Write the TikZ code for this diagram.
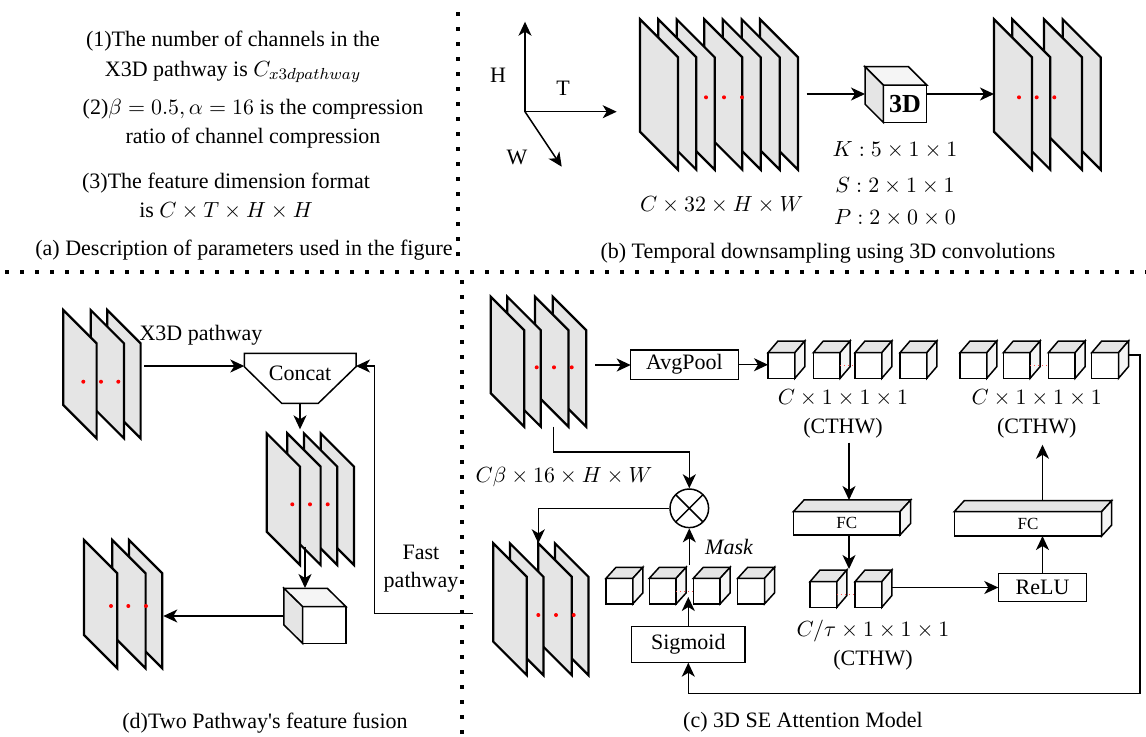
\documentclass[tikz,border=0pt]{standalone}
\usepackage[no-math]{fontspec}
\setmainfont{Liberation Serif}
\usetikzlibrary{arrows.meta, positioning, calc}

% one feature plane: top-left corner, width (= slant), height
\newcommand{\fplane}[4]{\draw[plane] (#1,#2) -- ++(0,#4) -- ++(#3,#3) -- ++(0,-#4) -- cycle;}
\newcommand{\rdots}[4]{\fill[red] (#1,#4) circle (1pt) (#2,#4) circle (1pt) (#3,#4) circle (1pt);}
% depth faces of a box node, going back to the right / to the left
\newcommand{\rdepth}[3]{%
  \draw[topface] (#1.north west) -- ([shift={(#2,#3)}]#1.north west) -- ([shift={(#2,#3)}]#1.north east) -- (#1.north east) -- cycle;
  \draw[sideface] (#1.north east) -- ([shift={(#2,#3)}]#1.north east) -- ([shift={(#2,#3)}]#1.south east) -- (#1.south east) -- cycle;}
\newcommand{\ldepth}[3]{%
  \draw[sideface] (#1.north west) -- ([shift={(#2,#3)}]#1.north west) -- ([shift={(#2,#3)}]#1.north east) -- (#1.north east) -- cycle;
  \draw[topface] (#1.north west) -- ([shift={(#2,#3)}]#1.north west) -- ([shift={(#2,#3)}]#1.south west) -- (#1.south west) -- cycle;}

\begin{document}
\begin{tikzpicture}[x=0.5pt, y=-0.5pt, >={Stealth[length=7pt,width=6.5pt,inset=2pt]},
    plane/.style={draw, fill=gray!20, line width=1.1pt, line join=miter},
    conn/.style={->, line width=0.75pt},
    box/.style={draw, fill=white, line width=0.75pt, inner sep=0pt, outer sep=0pt},
    cubef/.style={box, minimum width=13.4pt, minimum height=12.8pt},
    topface/.style={draw, fill=gray!20, line width=0.75pt},
    sideface/.style={draw, fill=gray!8, line width=0.75pt},
    reddots/.style={red!70, line width=0.4pt, dash pattern=on 0.6pt off 1.4pt},
    sep/.style={line width=1.8pt, dash pattern=on 1.8pt off 5.7pt},
    lbl/.style={font=\fontsize{11}{14.5}\selectfont, align=center, inner sep=0pt}]

\useasboundingbox (0,0) rectangle (1146,736);

% dividers
\draw[sep] (5,272) -- (1146,272);
\draw[sep] (458,12) -- (458,266);
\draw[sep] (462,280) -- (462,736);

% (a)
\node[lbl, font=\fontsize{11}{15}\selectfont] (a1) at (233,57) {(1)The number of channels in the\\X3D pathway is $C_{x3dpathway}$};
\node[lbl] (a2) at (253,124) {(2)$\beta=0.5,\alpha=16$ is the compression\\ratio of channel compression};
\node[lbl] (a3) at (226,196) {(3)The feature dimension format\\is $C\times T\times H\times H$};
\node[lbl] (capa) at (244,250) {(a) Description of parameters used in the figure};

% (b)
\coordinate (o) at (525,111.7);
\coordinate (hax) at (525,21.7);
\coordinate (tax) at (616.7,111.7);
\coordinate (wax) at (561.7,166.7);
\draw[conn] (o) -- (hax);
\draw[conn] (o) -- (tax);
\draw[conn] (o) -- (wax);
\node[lbl] (hl) at (498,75) {H};
\node[lbl] (tl) at (563,88) {T};
\node[lbl] (wl) at (517,157) {W};

\foreach \x in {760,741.7,722.7,704.3,676.7,658.3,640} {\fplane{\x}{19.3}{38}{112.4}}
\rdots{706}{724}{742}{97.3}
\node[lbl] (dimb) at (721.7,205) {$C\times32\times H\times W$};

\node[box, minimum width=21.7pt, minimum height=18.7pt, font=\fontsize{13}{13}\bfseries\selectfont] (conv) at (905,103.7) {3D};
\ldepth{conv}{-18.3}{-18.3}
\coordinate (stb1) at (806.7,94);
\coordinate (convin) at (865,94);
\coordinate (stb2) at (994,94);
\draw[conn] (stb1) -- (convin);
\draw[conn] (conv.east |- convin) -- (stb2);

\node[lbl] (kk) at (895,150) {$K:5\times1\times1$};
\node[lbl] (ss) at (895,186) {$S:2\times1\times1$};
\node[lbl] (pp) at (895,218) {$P:2\times0\times0$};

\foreach \x in {1062.7,1044,1012.3,994} {\fplane{\x}{19.3}{38}{112.4}}
\rdots{1019}{1036.7}{1054.3}{97.3}
\node[lbl] (capb) at (828,253) {(b) Temporal downsampling using 3D convolutions};

% (c)
\foreach \x in {552.7,535,507.3,490.7} {\fplane{\x}{296.7}{33.5}{96.5}}
\rdots{536.7}{554}{571.7}{367.3}
\coordinate (stc1) at (595,365);
\node[box, minimum width=53.8pt, minimum height=14.7pt, font=\fontsize{11}{11}\selectfont] (avg) at (684.5,364.7) {AvgPool};
\draw[conn] (stc1) -- (stc1 -| avg.west);

\foreach \x [count=\i] in {768,813.3,855,900} {\node[cubef, anchor=north west] (ca\i) at (\x,352.7) {}; \rdepth{ca\i}{10}{-11.7}}
\draw[reddots] (ca2.east) -- (ca3.west);
\draw[conn] (avg.east) -- (avg.east -| ca1.west);
\node[lbl] (dc1) at (843,414) {$C\times1\times1\times1$\\(CTHW)};

\node[box, minimum width=53.3pt, minimum height=11.7pt, font=\fontsize{8.5}{8.5}\selectfont] (fc1) at (846.7,523.3) {FC};
\rdepth{fc1}{10.7}{-11.7}
\coordinate (fc1t) at (849,500);
\draw[conn] ([yshift=-2pt]dc1.south -| fc1t) -- (fc1t);

\foreach \x [count=\i] in {810,855} {\node[cubef, anchor=north west] (cb\i) at (\x,581.7) {}; \rdepth{cb\i}{10}{-11.7}}
\draw[reddots] (cb1.east) -- (cb2.west);
\coordinate (cbin) at (849,569);
\draw[conn] (fc1.south -| fc1t) -- (cbin);
\node[lbl] (dc3) at (873,645) {$C/\tau\times1\times1\times1$\\(CTHW)};

\node[box, minimum width=44.2pt, minimum height=14.2pt, font=\fontsize{11}{11}\selectfont] (relu) at (1042.5,587.5) {ReLU};
\coordinate (cbout) at (891.7,587.5);
\draw[conn] (cbout) -- (relu);

\node[box, minimum width=73.7pt, minimum height=12.2pt, font=\fontsize{8.5}{8.5}\selectfont] (fc2) at (1028,523.8) {FC};
\rdepth{fc2}{10}{-11}
\draw[conn] (relu.north) -- (relu.north |- fc2.south);
\coordinate (fc2t) at ([yshift=5.5pt]fc2.north);
\node[lbl] (dc2) at (1036.7,414) {$C\times1\times1\times1$\\(CTHW)};
\draw[conn] (relu.north |- fc2t) -- ([yshift=-3pt]relu.north |- dc2.south);

\foreach \x [count=\i] in {960,1003.3,1048.3,1091.7} {\node[cubef, anchor=north west] (cc\i) at (\x,352.7) {}; \rdepth{cc\i}{10}{-11.7}}
\draw[reddots] (cc2.east) -- (cc3.west);

\node[box, minimum width=56.7pt, minimum height=18pt, font=\fontsize{11}{11}\selectfont] (sig) at (688.3,644.7) {Sigmoid};
\coordinate (fb) at (1128.3,355);
\draw[conn] (fb) -- ++(11.7,0) |- ([yshift=-15.3pt]sig.south) -- (sig.south);

\foreach \x [count=\i] in {606,649.3,693.3,737.7} {\node[cubef, anchor=north west] (cm\i) at (\x,578.3) {}; \rdepth{cm\i}{10}{-11}}
\draw[reddots] (cm2.east) -- (cm3.west);
\coordinate (mskin) at (688.3,597);
\draw[conn] (sig) -- (mskin);

\node[draw, circle, line width=0.75pt, minimum size=19.3pt, inner sep=0pt,
  path picture={\draw[line width=0.75pt] (path picture bounding box.north west) -- (path picture bounding box.south east)
  (path picture bounding box.south west) -- (path picture bounding box.north east);}] (mul) at (689.3,508.3) {};
\coordinate (mskout) at (689.3,565);
\draw[conn] (mskout) -- (mul);
\node[lbl, font=\fontsize{11}{11}\selectfont\itshape] (mask) at (729,547) {Mask};

\coordinate (stc2) at (553.3,426.7);
\draw[conn] (stc2) |- ([yshift=18.2pt]mul.north) -- (mul.north);
\node[lbl] (dcb) at (564,476.7) {$C\beta\times16\times H\times W$};
\coordinate (stc3) at (538.3,543.3);
\draw[conn] (mul.west) -| (stc3);

\foreach \x in {555,538.3,510,493.3} {\fplane{\x}{543.3}{33.4}{98.4}}
\rdots{538.3}{556}{573.7}{615}
\node[lbl] (capc) at (803,722) {(c) 3D SE Attention Model};

% (d)
\foreach \x in {107.3,90.7,63.3} {\fplane{\x}{310}{33.3}{95}}
\rdots{83.3}{101}{118.3}{381.7}
\node[lbl] (x3d) at (201,335) {X3D pathway};

\draw[line width=0.75pt, fill=white] (244.3,353.3) coordinate (catnw) -- (356,353.3) coordinate (catne) -- (356,366.7)
  -- (318.3,403.3) -- (281.7,403.3) -- (244.3,366.7) -- cycle;
\node[lbl] (concat) at (300,373.3) {Concat};
\coordinate (catb) at (300,403.3);
\coordinate (std1) at (144.3,366);
\draw[conn] (std1) -- (std1 -| catnw);
\coordinate (std2) at (300,429.3);
\draw[conn] (catb) -- (std2);

\foreach \x in {320.7,304,287.3,266.7} {\fplane{\x}{433.3}{33.3}{98.4}}
\rdots{292.3}{310}{327.7}{504.3}

\node[box, minimum width=21.7pt, minimum height=18.3pt] (fcube) at (324.3,625) {};
\ldepth{fcube}{-18.7}{-18.4}
\coordinate (std3) at (305,546.7);
\coordinate (fctop) at (305,588);
\draw[conn] (std3) -- (fctop);
\coordinate (fcl) at (284,616);
\coordinate (std4) at (163.3,616);
\draw[conn] (fcl) -- (std4);

\foreach \x in {129,112.3,84} {\fplane{\x}{540}{33.3}{95}}
\rdots{111}{128.3}{146}{606}

\coordinate (fastin) at (472.7,613.3);
\draw[conn] (fastin) -- ++(-98.4,0) |- (catne |- std1);
\node[lbl, font=\fontsize{11}{14}\selectfont] (fast) at (421,569) {Fast\\pathway};
\node[lbl] (capd) at (265,723.3) {(d)Two Pathway\textquotesingle s feature fusion};

\end{tikzpicture}
\end{document}
